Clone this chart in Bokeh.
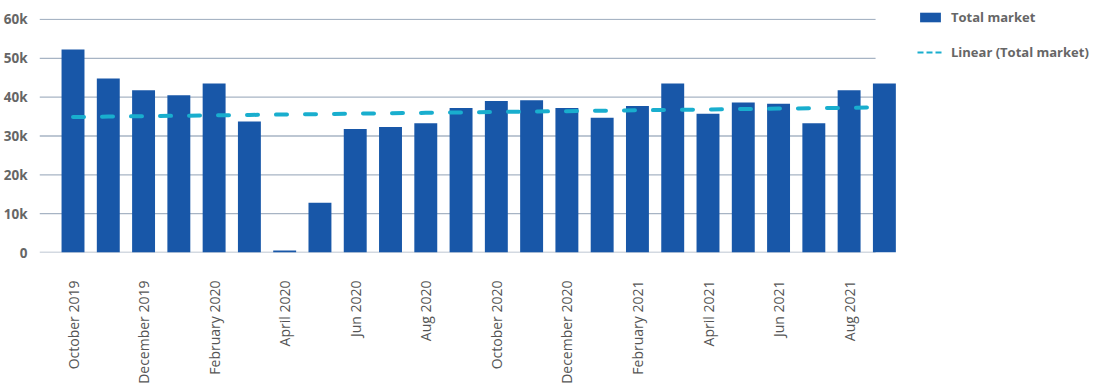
import math
import numpy as np
from bokeh.plotting import figure
from bokeh.models import FixedTicker, Legend, LegendItem, ColumnDataSource, Range1d
from bokeh.embed import file_html
from bokeh.resources import INLINE

months = ["October 2019", "November 2019", "December 2019", "January 2020",
          "February 2020", "March 2020", "April 2020", "May 2020",
          "Jun 2020", "Jul 2020", "Aug 2020", "Sep 2020",
          "October 2020", "November 2020", "December 2020", "January 2021",
          "February 2021", "March 2021", "April 2021", "May 2021",
          "Jun 2021", "Jul 2021", "Aug 2021", "Sep 2021"]
total_market = [52300, 44800, 41800, 40500, 43500, 33700, 500, 12800,
                31800, 32300, 33300, 37200, 39000, 39200, 37200, 34700,
                37700, 43500, 35700, 38600, 38300, 33300, 41800, 43500]
y_ticks = [0, 10000, 20000, 30000, 40000, 50000, 60000]
y_tick_labels = ["0", "10k", "20k", "30k", "40k", "50k", "60k"]
x_label_every = 2

BAR = "#1857A8"
TREND = "#19AECE"
GRID = "#A7B4C4"
TXT = "#666666"
FONT = "Open Sans"

idx = np.arange(len(months))
slope, intercept = np.polyfit(idx, np.array(total_market, dtype=float), 1)
trend = slope * idx + intercept

src = ColumnDataSource(dict(x=idx, y=total_market, t=trend))

x_start = -0.95
x_end = idx[-1] + 0.4
grid_end = idx[-1] - 0.25   # gridlines stop short of the last bar, as in the original

p = figure(frame_width=859, frame_height=234,
           x_range=Range1d(x_start, x_end), y_range=Range1d(0, 60250),
           output_backend="svg", toolbar_location=None,
           min_border_left=25, min_border_right=187,
           min_border_top=18, min_border_bottom=126)
p.outline_line_color = None
p.background_fill_color = "white"
p.border_fill_color = "white"

# horizontal gridlines (incl. baseline) from the tick list
gsrc = ColumnDataSource(dict(y=y_ticks))
p.segment(x0=x_start, x1=grid_end, y0="y", y1="y", source=gsrc,
          line_color=GRID, line_width=1.3)

bars = p.vbar(x="x", top="y", width=0.65, source=src, fill_color=BAR,
              line_color=None)
tl = p.line(x="x", y="t", source=src, line_color=TREND, line_width=4,
            line_dash="11 18", line_cap="round")
# legend-only sample of the dashed trend style (placed outside the visible range)
legend_line = p.line(x=[-10, -9], y=[0, 0], line_color=TREND, line_width=2,
                     line_dash="6 3")

# axes
p.yaxis.ticker = FixedTicker(ticks=y_ticks)
p.yaxis.major_label_overrides = {t: l for t, l in zip(y_ticks, y_tick_labels)}
p.yaxis.axis_line_color = None
p.yaxis.major_tick_line_color = None
p.yaxis.minor_tick_line_color = None
p.yaxis.major_label_standoff = 6
p.yaxis.major_label_text_font = FONT
p.yaxis.major_label_text_font_size = "13.5px"
p.yaxis.major_label_text_font_style = "bold"
p.yaxis.major_label_text_color = TXT

xt = list(idx[::x_label_every])
p.xaxis.ticker = FixedTicker(ticks=xt)
p.xaxis.major_label_overrides = {int(i): months[int(i)] for i in xt}
p.xaxis.major_label_orientation = math.pi / 2
p.xaxis.axis_line_color = None
p.xaxis.major_tick_line_color = None
p.xaxis.minor_tick_line_color = None
p.xaxis.major_label_standoff = 22
p.xaxis.major_label_text_font = FONT
p.xaxis.major_label_text_font_size = "14px"
p.xaxis.major_label_text_color = "#555555"

p.xgrid.grid_line_color = None
p.ygrid.grid_line_color = None

legend = Legend(items=[LegendItem(label="Total market", renderers=[bars]),
                       LegendItem(label="Linear (Total market)", renderers=[legend_line])],
                location=(19, 191), margin=0, padding=0, spacing=17,
                glyph_width=26, glyph_height=12, label_height=16,
                label_standoff=8, border_line_color=None,
                background_fill_alpha=0,
                label_text_font=FONT, label_text_font_size="13px",
                label_text_font_style="bold", label_text_color=TXT)
p.add_layout(legend, "right")

open("out.html", "w").write(file_html(p, INLINE))
